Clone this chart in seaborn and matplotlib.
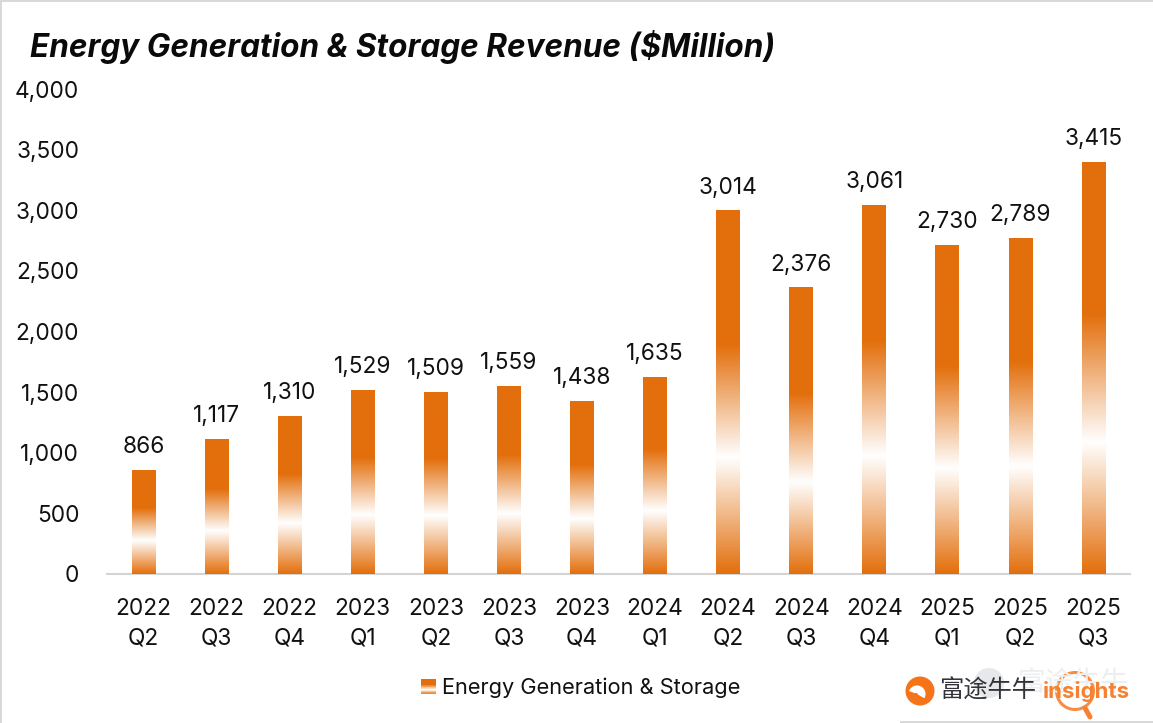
import numpy as np
import pandas as pd
import matplotlib
matplotlib.use("Agg")
import matplotlib.pyplot as plt
import seaborn as sns
from matplotlib.colors import LinearSegmentedColormap
from matplotlib.legend_handler import HandlerBase
from matplotlib.patches import Circle, Rectangle, Wedge
from matplotlib.transforms import ScaledTranslation

quarters = ["2022\nQ2", "2022\nQ3", "2022\nQ4", "2023\nQ1", "2023\nQ2", "2023\nQ3", "2023\nQ4",
            "2024\nQ1", "2024\nQ2", "2024\nQ3", "2024\nQ4", "2025\nQ1", "2025\nQ2", "2025\nQ3"]
revenue = [866, 1117, 1310, 1529, 1509, 1559, 1438, 1635, 3014, 2376, 3061, 2730, 2789, 3415]
y_ticks = [0, 500, 1000, 1500, 2000, 2500, 3000, 3500, 4000]

TITLE = "Energy Generation & Storage Revenue ($Million)"
SERIES = "Energy Generation & Storage"
ORANGE = "#e36f0c"
INK = "#111111"
W, H = 1153, 723

sns.set_theme(style="white")
plt.rcParams["font.family"] = ["Inter", "DejaVu Sans"]

# Vertical fill shared by every bar: orange at the foot, white low down, solid above.
fade = LinearSegmentedColormap.from_list(
    "bar_fade",
    [(0.0, ORANGE), (0.32, "#ffffff"), (0.63, ORANGE), (1.0, ORANGE)],
)
ramp = np.linspace(1, 0, 256).reshape(-1, 1)

fig = plt.figure(figsize=(W / 100, H / 100), dpi=100, facecolor="white")
ax = fig.add_axes([107 / W, 1 - 574 / H, (1130 - 107) / W, 482.5 / H])

frame = pd.DataFrame({"quarter": quarters, "revenue": revenue})
sns.barplot(data=frame, x="quarter", y="revenue", color=ORANGE, width=0.325,
            saturation=1, ax=ax, zorder=2)

for bar in list(ax.patches):
    image = ax.imshow(
        ramp, cmap=fade, vmin=0, vmax=1, aspect="auto", zorder=3,
        extent=[bar.get_x(), bar.get_x() + bar.get_width(), 0, bar.get_height()],
    )
    image.set_clip_path(bar)
    bar.set_visible(False)

ax.set_xlim(-0.5, len(quarters) - 0.5)
ax.set_ylim(0, 4000)
ax.set_yticks(y_ticks)
ax.set_yticklabels([f"{t:,}" for t in y_ticks])
ax.set_xlabel("")
ax.set_ylabel("")
ax.tick_params(axis="both", length=0, labelsize=16.3, labelcolor=INK)
ax.tick_params(axis="x", pad=17)
ax.tick_params(axis="y", pad=20)
for label in ax.get_xticklabels():
    label.set_linespacing(1.45)

# Value labels sit slightly wider apart than the bar scale, so nudge them up with the value.
for tick_value, label in zip(y_ticks, ax.get_yticklabels()):
    lift = 2.5 * tick_value / 4000 / 100
    label.set_transform(label.get_transform() + ScaledTranslation(0, lift, fig.dpi_scale_trans))

sns.despine(ax=ax, left=True)
ax.spines["bottom"].set_color("#d4d4d4")
ax.spines["bottom"].set_linewidth(1.5)

for x, value in enumerate(revenue):
    ax.annotate(f"{value:,}", (x, value), xytext=(0, 8.5), textcoords="offset points",
                ha="center", va="bottom", fontsize=16.3, color=INK, zorder=4)

fig.text(30 / W, 1 - 47 / H, TITLE, fontsize=22.7, fontweight="bold", fontstyle="italic",
         color="#0a0a0a", va="center", ha="left")


class StripedSwatch(HandlerBase):
    """Legend key that repeats the bar fill as thin horizontal stripes."""

    def create_artists(self, legend, orig_handle, xdescent, ydescent, width, height,
                       fontsize, trans):
        steps = 24
        artists = []
        for i in range(steps):
            artists.append(Rectangle(
                (-xdescent, -ydescent + height * i / steps), width, height / steps + 0.15,
                facecolor=fade((i + 0.5) / steps), edgecolor="none", transform=trans,
            ))
        return artists


legend = fig.legend(
    [Rectangle((0, 0), 1, 1)], [SERIES],
    handler_map={Rectangle: StripedSwatch()},
    loc="center", bbox_to_anchor=(581 / W, 1 - 688 / H), frameon=False,
    fontsize=15.7, handlelength=0.66, handleheight=0.72, handletextpad=0.32,
    labelcolor=INK,
)

# Brand mark in the lower right, drawn on a full-figure overlay in pixel units.
overlay = fig.add_axes([0, 0, 1, 1], zorder=10)
overlay.set_xlim(0, W)
overlay.set_ylim(H, 0)
overlay.axis("off")
overlay.patch.set_alpha(0)

# Page frame
overlay.add_patch(Rectangle((0, 0), W, 2, color="#d9d9d9", lw=0))
overlay.add_patch(Rectangle((0, 0), 2, H, color="#d9d9d9", lw=0))
overlay.add_patch(Rectangle((900, 721), 253, 2, color="#d9d9d9", lw=0))

# Faded watermark behind the logo
overlay.add_patch(Circle((989, 683), 15, color="#e6e8ea", lw=0))
overlay.text(1018, 683, "富途牛牛", family=["Noto Sans CJK SC", "DejaVu Sans"], fontsize=20,
             color="#eceeef", va="center", ha="left")

# Logo head and face
overlay.add_patch(Circle((920, 691), 14.5, color="#f5741a", lw=0))
overlay.add_patch(Wedge((917, 694), 8.5, 200, 30, color="white", lw=0))
overlay.add_patch(Circle((916, 695), 2, color="#f5741a", lw=0))
overlay.text(939, 691, "富途牛牛", family=["Noto Sans CJK SC", "DejaVu Sans"], fontsize=17.5,
             color="#33343a", va="center", ha="left")
overlay.text(1043, 692, "insights", family=["Inter", "DejaVu Sans"], fontsize=16,
             fontweight="bold", color="#f58232", va="center", ha="left")

# Magnifying glass over the wordmark
overlay.add_patch(Circle((1075, 691), 18.5, fill=False, ec="#f58232", lw=2.2, alpha=0.9))
overlay.plot([1085, 1090], [708, 717], color="#f58232", lw=3.6, solid_capstyle="round")

fig.savefig("out.png", dpi=100, facecolor="white")
